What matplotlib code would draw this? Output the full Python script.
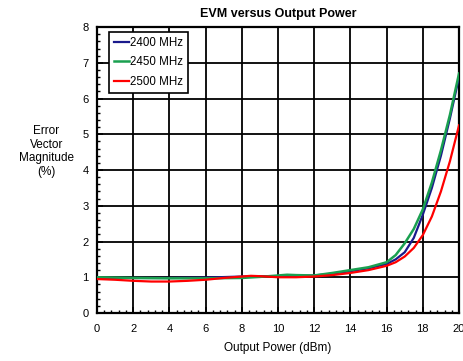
import matplotlib.pyplot as plt
import numpy as np
from matplotlib.ticker import MultipleLocator

plt.rcParams['font.family'] = ['Liberation Sans', 'DejaVu Sans']

# Werte
p_2400 = [0, 2, 4, 6, 8, 9, 10, 11, 12, 13, 14, 15, 16, 16.5, 17, 17.5, 18, 18.5, 19, 19.5, 20]
evm_2400 = [0.98, 0.98, 0.98, 0.99, 1.02, 1.03, 1.03, 1.03, 1.05, 1.1, 1.17, 1.25, 1.37, 1.5, 1.7, 2.1, 2.75, 3.5, 4.4, 5.45, 6.6]
p_2450 = [0, 2, 4, 6, 8, 9, 10, 10.5, 11, 12, 13, 14, 15, 16, 16.5, 17, 17.5, 18, 18.5, 19, 19.5, 20]
evm_2450 = [1.0, 0.98, 0.97, 0.97, 0.98, 1.01, 1.05, 1.07, 1.06, 1.05, 1.12, 1.2, 1.28, 1.42, 1.62, 1.95, 2.35, 2.9, 3.65, 4.55, 5.55, 6.7]
p_2500 = [0, 1, 2, 3, 4, 5, 6, 7, 8, 8.5, 9, 10, 11, 12, 13, 14, 15, 16, 16.5, 17, 17.5, 18, 18.5, 19, 19.5, 20]
evm_2500 = [0.95, 0.93, 0.9, 0.88, 0.88, 0.9, 0.93, 0.98, 1.02, 1.04, 1.03, 1.0, 1.0, 1.02, 1.06, 1.12, 1.2, 1.32, 1.42, 1.58, 1.82, 2.18, 2.7, 3.4, 4.25, 5.25]

fig = plt.figure(figsize=(4.63, 3.61), dpi=100)
ax = fig.add_axes([0.2095, 0.133, 0.7819, 0.792])

ax.plot(p_2400, evm_2400, color='#1a1a8c', lw=1.6, label='2400 MHz', zorder=3)
ax.plot(p_2450, evm_2450, color='#1aa050', lw=1.8, label='2450 MHz', zorder=4)
ax.plot(p_2500, evm_2500, color='#ff0000', lw=1.6, label='2500 MHz', zorder=5)

ax.set_xlim(0, 20)
ax.set_ylim(0, 8)
ax.xaxis.set_major_locator(MultipleLocator(2))
ax.xaxis.set_minor_locator(MultipleLocator(0.4))
ax.yaxis.set_major_locator(MultipleLocator(1))
ax.yaxis.set_minor_locator(MultipleLocator(0.2))
ax.tick_params(which='both', direction='in', labelsize=8, color='black')
ax.tick_params(which='major', length=4, width=1.2)
ax.tick_params(axis='x', which='major', pad=8)
ax.tick_params(axis='y', which='major', pad=6)
ax.tick_params(which='minor', length=2.5, width=1.0)
ax.grid(which='major', color='black', lw=1.3)
for s in ax.spines.values():
    s.set_linewidth(1.6)

ax.set_title('EVM versus Output Power', fontsize=9, fontweight='bold', pad=7)
ax.set_xlabel('Output Power (dBm)', fontsize=8.5, labelpad=6)
ax.set_ylabel('Error\nVector\nMagnitude\n(%)', fontsize=8.5, rotation=0,
              ha='center', va='center', labelpad=0)
ax.yaxis.set_label_coords(-0.14, 0.565)

leg = ax.legend(loc='upper left', fontsize=8.3, fancybox=False, framealpha=1,
                edgecolor='black', handlelength=1.3, handletextpad=0.05,
                borderpad=0.45, labelspacing=0.65, borderaxespad=0.4,
                bbox_to_anchor=(0.02, 1.0))
leg.get_frame().set_linewidth(1.2)

plt.savefig('out.png', dpi=100)
